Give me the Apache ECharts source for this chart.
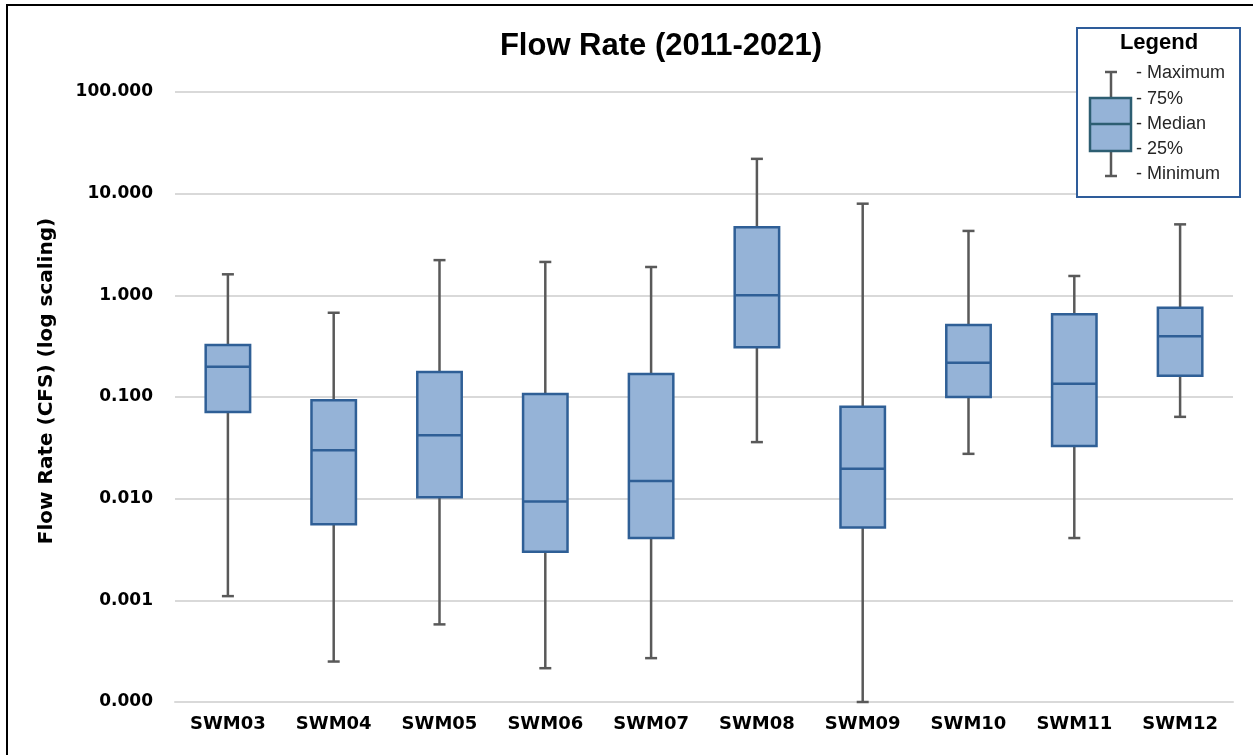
<!DOCTYPE html>
<html>
<head>
<meta charset="utf-8">
<script src="https://cdn.jsdelivr.net/npm/echarts@6/dist/echarts.min.js"></script>
<style>html,body{margin:0;padding:0;background:#fff;}#c{width:1253px;height:755px;}</style>
</head>
<body>
<div id="c"></div>
<script>
const categories = ['SWM03','SWM04','SWM05','SWM06','SWM07','SWM08','SWM09','SWM10','SWM11','SWM12'];
const minimum = [0.0011, 0.00025, 0.00058, 0.000215, 0.00027, 0.036, 0.0001, 0.0276, 0.0041, 0.0638];
const q1      = [0.071, 0.0056, 0.0103, 0.0030, 0.0041, 0.308, 0.0052, 0.100, 0.033, 0.162];
const median  = [0.198, 0.030, 0.042, 0.0094, 0.0149, 1.0, 0.0197, 0.217, 0.135, 0.395];
const q3      = [0.324, 0.093, 0.176, 0.107, 0.168, 4.67, 0.080, 0.51, 0.65, 0.755];
const maximum = [1.61, 0.674, 2.22, 2.13, 1.90, 22.0, 7.97, 4.3, 1.55, 4.99];
const yTicks = [0.0001, 0.001, 0.01, 0.1, 1, 10, 100];

const FILL = '#95b3d7', BORDER = '#2f5f96', WHISK = '#595959';

const data = categories.map((c, i) => [i, minimum[i], q1[i], median[i], q3[i], maximum[i]]);

function renderItem(params, api) {
  const x = api.value(0);
  const band = api.size([1, 0])[0];
  const bw = band * 0.42;
  const capW = 12;
  const pMin = api.coord([x, api.value(1)]);
  const pQ1 = api.coord([x, api.value(2)]);
  const pMed = api.coord([x, api.value(3)]);
  const pQ3 = api.coord([x, api.value(4)]);
  const pMax = api.coord([x, api.value(5)]);
  const cx = pMed[0];
  const wStyle = { stroke: WHISK, lineWidth: 2.5 };
  return {
    type: 'group',
    children: [
      { type: 'line', shape: { x1: cx, y1: pMax[1], x2: cx, y2: pQ3[1] }, style: wStyle },
      { type: 'line', shape: { x1: cx, y1: pQ1[1], x2: cx, y2: pMin[1] }, style: wStyle },
      { type: 'line', shape: { x1: cx - capW / 2, y1: pMax[1], x2: cx + capW / 2, y2: pMax[1] }, style: wStyle },
      { type: 'line', shape: { x1: cx - capW / 2, y1: pMin[1], x2: cx + capW / 2, y2: pMin[1] }, style: wStyle },
      { type: 'rect', shape: { x: cx - bw / 2, y: pQ3[1], width: bw, height: pQ1[1] - pQ3[1] },
        style: { fill: FILL, stroke: BORDER, lineWidth: 2.5 } },
      { type: 'line', shape: { x1: cx - bw / 2, y1: pMed[1], x2: cx + bw / 2, y2: pMed[1] },
        style: { stroke: BORDER, lineWidth: 2.5 } }
    ]
  };
}

const chart = echarts.init(document.getElementById('c'), null, { renderer: 'canvas' });
const legX = 1077, legY = 28;
const legFont = { fontFamily: 'Liberation Sans', fontSize: 18, fill: '#262626', verticalAlign: 'middle' };
chart.setOption({
  animation: false,
  backgroundColor: '#ffffff',
  title: {
    text: 'Flow Rate (2011-2021)',
    left: 656, top: 26, textAlign: 'center',
    textStyle: { fontFamily: 'Liberation Sans', fontWeight: 'bold', fontSize: 31, color: '#000' }
  },
  grid: { left: 175, right: 20, top: 92, bottom: 53 },
  xAxis: {
    type: 'category',
    data: categories,
    axisLine: { lineStyle: { color: '#d9d9d9', width: 2 } },
    axisTick: { show: false },
    axisLabel: { margin: 13, fontFamily: 'DejaVu Sans', fontWeight: 'bold', fontSize: 18, color: '#000' }
  },
  yAxis: {
    type: 'log',
    logBase: 10,
    min: yTicks[0],
    max: yTicks[yTicks.length - 1],
    interval: 1,
    axisLine: { show: false },
    axisTick: { show: false },
    splitLine: { lineStyle: { color: '#d9d9d9', width: 2 } },
    axisLabel: {
      margin: 22,
      fontFamily: 'DejaVu Sans', fontWeight: 'bold', fontSize: 17, color: '#000',
      formatter: v => Number(v).toFixed(3)
    }
  },
  series: [{
    type: 'custom',
    renderItem: renderItem,
    encode: { x: 0, y: [1, 2, 3, 4, 5] },
    data: data,
    z: 5
  }],
  graphic: [
    { type: 'polyline', shape: { points: [[7, 760], [7, 5], [1260, 5]] }, style: { stroke: '#000', lineWidth: 2, fill: null }, z: 100 },
    { type: 'text', x: 47, y: 381, rotation: Math.PI / 2,
      style: { text: 'Flow Rate (CFS) (log scaling)', fontFamily: 'DejaVu Sans', fontWeight: 'bold', fontSize: 20, fill: '#000', align: 'center', verticalAlign: 'middle' } },
    { type: 'rect', shape: { x: legX, y: legY, width: 163, height: 169 }, style: { fill: '#fff', stroke: '#2e5c9a', lineWidth: 2 }, z: 50 },
    { type: 'text', x: 1159, y: 43, style: { text: 'Legend', fontFamily: 'Liberation Sans', fontWeight: 'bold', fontSize: 22, fill: '#000', align: 'center', verticalAlign: 'middle' }, z: 51 },
    { type: 'line', shape: { x1: 1111, y1: 72, x2: 1111, y2: 98 }, style: { stroke: WHISK, lineWidth: 2.5 }, z: 51 },
    { type: 'line', shape: { x1: 1111, y1: 151, x2: 1111, y2: 176 }, style: { stroke: WHISK, lineWidth: 2.5 }, z: 51 },
    { type: 'line', shape: { x1: 1105, y1: 72, x2: 1117, y2: 72 }, style: { stroke: WHISK, lineWidth: 2.5 }, z: 51 },
    { type: 'line', shape: { x1: 1105, y1: 176, x2: 1117, y2: 176 }, style: { stroke: WHISK, lineWidth: 2.5 }, z: 51 },
    { type: 'rect', shape: { x: 1090, y: 98, width: 41, height: 53 }, style: { fill: FILL, stroke: '#2d5e72', lineWidth: 2.5 }, z: 51 },
    { type: 'line', shape: { x1: 1090, y1: 124, x2: 1131, y2: 124 }, style: { stroke: '#2d5e72', lineWidth: 2.5 }, z: 52 },
    { type: 'text', x: 1136, y: 73, style: Object.assign({ text: '- Maximum' }, legFont), z: 51 },
    { type: 'text', x: 1136, y: 99, style: Object.assign({ text: '- 75%' }, legFont), z: 51 },
    { type: 'text', x: 1136, y: 124, style: Object.assign({ text: '- Median' }, legFont), z: 51 },
    { type: 'text', x: 1136, y: 149, style: Object.assign({ text: '- 25%' }, legFont), z: 51 },
    { type: 'text', x: 1136, y: 174, style: Object.assign({ text: '- Minimum' }, legFont), z: 51 }
  ]
});
</script>
</body>
</html>
